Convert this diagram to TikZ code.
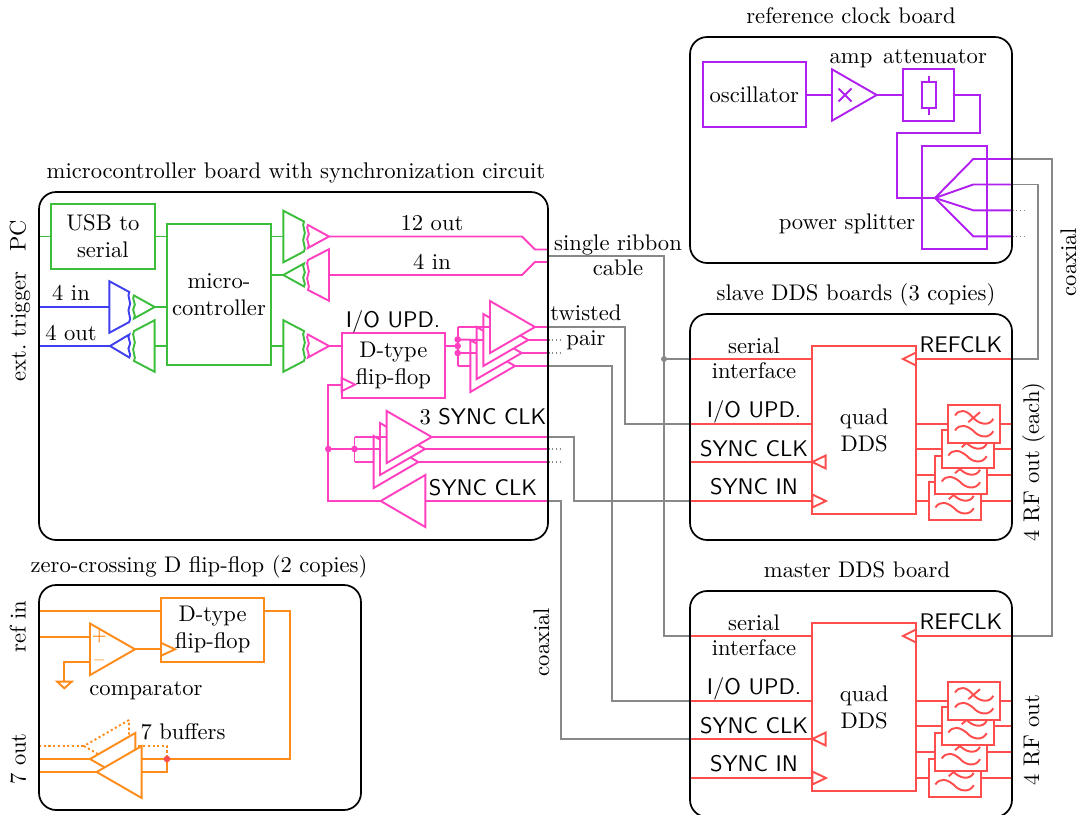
\documentclass[tikz,border=0pt]{standalone}
\usetikzlibrary{calc}
\pgfdeclarelayer{top}\pgfsetlayers{main,top}
\definecolor{cgreen}{HTML}{3CBE3C}
\definecolor{cblue}{HTML}{4040F0}
\definecolor{cpink}{HTML}{FF40C0}
\definecolor{corange}{HTML}{FF8C1A}
\definecolor{cpurple}{HTML}{B020F0}
\definecolor{cred}{HTML}{FF4D4D}
\definecolor{cgray}{HTML}{888888}
\def\unitpx{0.4667}
\AtBeginDocument{\fontsize{10.55}{12.65}\selectfont}
\tikzset{
  wire/.style={line width=.9pt,line join=miter},
  greenw/.style={wire,draw=cgreen},
  bluew/.style={wire,draw=cblue},
  pinkw/.style={wire,draw=cpink},
  orangew/.style={wire,draw=corange},
  purplew/.style={wire,draw=cpurple},
  redw/.style={wire,draw=cred},
  cable/.style={wire,draw=cgray},
  stub/.style={line width=.7pt,draw=cgray,dash pattern=on .7pt off 1.1pt},
  odot/.style={orangew,dash pattern=on 1pt off 1.2pt},
  boardbox/.style={draw=black,line width=.8pt,rounded corners=8pt},
  lbl/.style={anchor=base,inner sep=0pt,outer sep=0pt},
  sf/.style={font=\sffamily},
  sgn/.style={inner sep=0pt,text=corange,font=\fontsize{7}{7}\selectfont\bfseries},
}
% named box: name x1 y1 x2 y2 style text
\newcommand\bx[7]{%
  \pgfmathsetmacro\bxw{((#4)-(#2))*\unitpx}%
  \pgfmathsetmacro\bxh{((#5)-(#3))*\unitpx}%
  \node[#6,minimum width=\bxw pt,minimum height=\bxh pt,outer sep=0pt,inner sep=0pt,align=center]
    (#1) at ({((#2)+(#4))/2},{((#3)+(#5))/2}) {#7};}
% triangle: name xbase y xapex halfheight style
\newcommand\tri[6]{%
  \coordinate (#1-b) at (#2,#3); \coordinate (#1-a) at (#4,#3);
  \draw[fill=white,#6] (#2,{#3-#5}) -- (#1-a) -- (#2,{#3+#5}) -- cycle;}
% triangle with wavy base
\newcommand\wtri[6]{%
  \coordinate (#1-b) at (#2,#3); \coordinate (#1-a) at (#4,#3);
  \draw[fill=white,#6] (#2,{#3-#5})
    .. controls ({#2-3},{#3-0.75*#5}) and ({#2+3},{#3-0.25*#5}) .. (#2,#3)
    .. controls ({#2-3},{#3+0.25*#5}) and ({#2+3},{#3+0.75*#5}) .. (#2,{#3+#5})
    -- (#1-a) -- cycle;}
% trapezoid with wavy narrow side: name xwide xnarrow y hwide hnarrow style
\newcommand\trapz[7]{%
  \coordinate (#1-w) at (#2,#4); \coordinate (#1-n) at (#3,#4);
  \draw[fill=white,#7] (#2,{#4-#5}) -- (#3,{#4-#6})
    .. controls ({#3-3},{#4-0.75*#6}) and ({#3+3},{#4-0.25*#6}) .. (#3,#4)
    .. controls ({#3-3},{#4+0.25*#6}) and ({#3+3},{#4+0.75*#6}) .. (#3,{#4+#6})
    -- (#2,{#4+#5}) -- cycle;}
\newcommand\namedtxt[5][]{\node[lbl,#1] (#2) at (#3,#4) {#5};}
\newcommand\filt[3]{%
  \bx{#1}{#2}{#3}{#2+52}{#3+38.4}{redw,fill=white}{}
  \begin{scope}[shift={(#2,#3)}]
    \draw[redw] (6.7,10.7) .. controls (11,4) and (18,5) .. (24,12) .. controls (30,19.5) and (41,22) .. (45,14);
    \draw[redw] (6.7,25.7) .. controls (11,19) and (18,20) .. (25,26) .. controls (31,33) and (41,34) .. (45,26.4);
    \draw[redw] (20,17.4) -- (31.7,7.4);
  \end{scope}}
% DDS board: prefix, y offset
\newcommand\ddsboard[2]{%
\begin{scope}[shift={(0,#2)}]
  \begin{pgfonlayer}{top}
    \bx{#1-board}{690}{314}{1012}{540}{boardbox}{}
  \end{pgfonlayer}
  \bx{#1-dds}{812.3}{346}{916}{514}{redw}{quad\\DDS}
  \coordinate (#1-ser) at (690,359);
  \coordinate (#1-io) at (690,424);
  \coordinate (#1-clk) at (690,462);
  \coordinate (#1-in) at (690,501);
  \coordinate (#1-ref) at (1012,359);
  \draw[redw] (#1-ser) -- (#1-ser -| #1-dds.west);
  \draw[redw] (#1-io) -- (#1-io -| #1-dds.west);
  \draw[redw] (#1-clk) -- (#1-clk -| #1-dds.west);
  \draw[redw] (#1-in) -- (#1-in -| #1-dds.west);
  \tri{#1-tclk}{825.7}{462}{812.3}{6.5}{redw,fill=none}
  \tri{#1-tin}{812.3}{501}{826}{6.5}{redw,fill=none}
  \tri{#1-tref}{916}{359}{903}{6.5}{redw,fill=none}
  \draw[redw] (#1-ref) -- (#1-tref-b);
  \namedtxt{#1-tser}{754}{353}{serial}
  \namedtxt{#1-tint}{754}{378}{interface}
  \namedtxt[sf]{#1-tio}{754}{417}{I/O UPD.}
  \namedtxt[sf]{#1-tcl}{754}{456}{SYNC CLK}
  \namedtxt[sf]{#1-tsi}{754}{494}{SYNC IN}
  \namedtxt[sf]{#1-trf}{961}{352.7}{REFCLK}
  \filt{#1-f4}{928.7}{481.8}
  \draw[redw] (#1-dds.east |- #1-f4) -- (#1-f4.west);
  \draw[redw] (#1-f4.east) -- (#1-board.east |- #1-f4);
  \filt{#1-f3}{935}{455.8}
  \draw[redw] (#1-dds.east |- #1-f3) -- (#1-f3.west);
  \draw[redw] (#1-f3.east) -- (#1-board.east |- #1-f3);
  \filt{#1-f2}{941.7}{429.8}
  \draw[redw] (#1-dds.east |- #1-f2) -- (#1-f2.west);
  \draw[redw] (#1-f2.east) -- (#1-board.east |- #1-f2);
  \filt{#1-f1}{948.3}{404.8}
  \draw[redw] (#1-dds.east |- #1-f1) -- (#1-f1.west);
  \draw[redw] (#1-f1.east) -- (#1-board.east |- #1-f1);
\end{scope}}
\begin{document}
\begin{tikzpicture}[x=\unitpx pt,y=-\unitpx pt]
\useasboundingbox (0,0) rectangle (1078,814);
\begin{pgfonlayer}{top}
  \bx{mcb}{39}{192}{548}{540}{boardbox}{}
  \bx{zcb}{39}{585}{361}{810}{boardbox}{}
  \bx{clkb}{690}{37}{1012}{263}{boardbox}{}
\end{pgfonlayer}

% ---------- titles ----------
\namedtxt{tmcb}{296}{178}{microcontroller board with synchronization circuit}
\namedtxt{tzcb}{199}{572}{zero-crossing D flip-flop (2 copies)}
\namedtxt{tclk}{851}{23}{reference clock board}
\namedtxt{tslv}{856}{300}{slave DDS boards (3 copies)}
\namedtxt{tmst}{857}{577}{master DDS board}

% ---------- green and blue ----------
\bx{usb}{51}{204}{154.7}{269}{greenw}{USB to\\serial}
\bx{uc}{167.3}{224}{270.7}{365.3}{greenw}{micro-\\controller}
\draw[greenw] (mcb.west |- usb.west) -- (usb.west);
\draw[greenw] (usb.east) -- (uc.west |- usb.east);
\trapz{bi}{109.3}{129.3}{307}{25.8}{15}{bluew}
\wtri{go}{134}{307}{154.7}{11.5}{greenw}
\draw[bluew] (mcb.west |- bi-w) -- (bi-w);
\draw[greenw] (go-a) -- (uc.west |- go-a);
\wtri{bo}{129.3}{346}{110}{11.5}{bluew}
\trapz{gi}{154.7}{134}{346}{25.8}{15}{greenw}
\draw[bluew] (mcb.west |- bo-a) -- (bo-a);
\draw[greenw] (gi-w) -- (uc.west |- gi-w);
\trapz{g1}{283.3}{304}{236.5}{25.8}{15}{greenw}
\wtri{p1}{308}{236.5}{329}{11.5}{pinkw}
\draw[greenw] (uc.east |- g1-w) -- (g1-w);
\wtri{g2}{304}{275}{283.3}{11.5}{greenw}
\trapz{p2}{329}{308}{275}{25.8}{15}{pinkw}
\draw[greenw] (uc.east |- g2-a) -- (g2-a);
\trapz{g3}{283.3}{304}{346}{25.8}{15}{greenw}
\wtri{p3}{308}{346}{329}{11.5}{pinkw}
\draw[greenw] (uc.east |- g3-w) -- (g3-w);

\namedtxt{t4ia}{71}{300.7}{4 in}
\namedtxt{t4oa}{71}{340}{4 out}
\namedtxt[rotate=90]{tpc}{25.7}{236}{PC}
\namedtxt[rotate=90]{text}{25.7}{326.7}{ext.\ trigger}

% ---------- ribbon lines ----------
\coordinate (rib1) at (548,249.5);
\coordinate (rib2) at (548,262);
\coordinate (ribg) at (548,256);
\draw[pinkw] (p1-a) -- (522,236.5) -- (535,249.5) -- (rib1);
\draw[pinkw] (p2-w) -- (522,275) -- (535,262) -- (rib2);
\namedtxt{t12}{432}{230}{12 out}
\namedtxt{t4ib}{432}{269}{4 in}
\namedtxt{tsr}{618}{250}{single ribbon}
\namedtxt{tca}{618}{275}{cable}

% ---------- flip-flop and fan-out ----------
\bx{ff}{341.7}{333.3}{445}{397.7}{pinkw}{D-type\\flip-flop}
\coordinate (ffi) at (341.7,346);
\coordinate (ffo) at (445,346);
\draw[pinkw] (p3-a) -- (ffi);
\tri{ffc}{341.7}{384.6}{355}{6.5}{pinkw,fill=none}
\namedtxt[sf]{tio}{393}{327}{I/O UPD.}
\coordinate (fj) at (457.7,346);
\coordinate (fj1) at (457.7,327);
\coordinate (fj2) at (457.7,339.5);
\coordinate (fj3) at (457.7,353);
\coordinate (fj4) at (457.7,366);
\draw[pinkw] (ffo) -- (fj);
\draw[pinkw] (fj1) -- (fj4);
\tri{t4}{470.3}{366}{515}{26}{pinkw}
\draw[pinkw] (fj4) -- (t4-b);
\draw[pinkw] (t4-a) -- (mcb.east |- t4-a);
\tri{t3}{476.7}{353}{521.7}{26}{pinkw}
\draw[pinkw] (fj3) -- (t3-b);
\draw[pinkw] (t3-a) -- (mcb.east |- t3-a);
\tri{t2}{483.3}{340}{528.2}{26}{pinkw}
\draw[pinkw] (fj2) -- (t2-b);
\draw[pinkw] (t2-a) -- (mcb.east |- t2-a);
\tri{t1}{490}{327}{535}{26}{pinkw}
\draw[pinkw] (fj1) -- (t1-b);
\draw[pinkw] (t1-a) -- (mcb.east |- t1-a);
\fill[cpink] (fj2) circle (3.3) (fj) circle (3.3) (fj3) circle (3.3);

% ---------- sync clock ----------
\coordinate (ck) at (328.3,501);
\coordinate (ckj) at (328.3,449);
\coordinate (sj) at (354.5,449);
\coordinate (sj1) at (354.5,437);
\coordinate (sj3) at (354.5,462);
\tri{sb}{425.3}{501}{380.7}{26}{pinkw}
\draw[pinkw] (ffc-b) -- (ffc-b -| ck) -- (ck) -- (sb-a);
\draw[pinkw] (sb-b) -- (mcb.east |- sb-b);
\draw[pinkw] (ckj) -- (sj);
\draw[pinkw] (sj1) -- (sj3);
\tri{s3}{373.7}{462}{418.3}{26}{pinkw}
\draw[pinkw] (sj3) -- (s3-b);
\draw[pinkw] (s3-a) -- (mcb.east |- s3-a);
\tri{s2}{380}{449}{425}{26}{pinkw}
\draw[pinkw] (sj) -- (s2-b);
\draw[pinkw] (s2-a) -- (mcb.east |- s2-a);
\tri{s1}{386.7}{437}{431.7}{26}{pinkw}
\draw[pinkw] (sj1) -- (s1-b);
\draw[pinkw] (s1-a) -- (mcb.east |- s1-a);
\fill[cpink] (ckj) circle (3.3) (sj) circle (3.3);
\namedtxt{t3s}{483}{424}{3 {\sffamily SYNC CLK}}
\namedtxt[sf]{tsc}{483}{495}{SYNC CLK}
\namedtxt{ttw}{586}{320}{twisted}
\namedtxt{tpa}{586}{345}{pair}

% ---------- reference clock board ----------
\bx{osc}{702.7}{62.3}{806}{126.7}{purplew}{oscillator}
\tri{amp}{832}{95}{876.7}{25.7}{purplew}
\draw[purplew] (838.5,88.5) -- (851.5,101.5) (838.5,101.5) -- (851.5,88.5);
\bx{att}{902.7}{69.3}{954.3}{120.7}{purplew}{}
\bx{res}{922}{82}{935.7}{108}{purplew}{}
\draw[purplew] (res.north) -- ++(0,-6.5);
\draw[purplew] (res.south) -- ++(0,6.5);
\bx{split}{921.7}{146}{986.7}{249.3}{purplew}{}
\coordinate (sc) at (935,198);
\draw[purplew] (osc.east |- amp-b) -- (amp-b);
\draw[purplew] (amp-a) -- (att.west);
\draw[purplew] (att.east) -- (980,95) -- (980,133.3) -- (896.7,133.3) -- (896.7,198) -- (sc);
\coordinate (o1) at (1012,159);
\coordinate (o2) at (1012,184.5);
\coordinate (o3) at (1012,210.3);
\coordinate (o4) at (1012,236.3);
\draw[purplew] (sc) -- (973.3,159) -- (o1);
\draw[purplew] (sc) -- (973.3,184.5) -- (o2);
\draw[purplew] (sc) -- (973.3,210.3) -- (o3);
\draw[purplew] (sc) -- (973.3,236.3) -- (o4);
\namedtxt{tamp}{851}{63}{amp}
\namedtxt{tatt}{935}{63}{attenuator}
\namedtxt{tps}{847}{229}{power splitter}

% ---------- DDS boards ----------
\ddsboard{s}{0}
\ddsboard{m}{277}
\namedtxt[rotate=90]{trf1}{1039}{462}{4 RF out (each)}
\namedtxt[rotate=90]{trf2}{1039}{740}{4 RF out}
\namedtxt[rotate=90]{tco1}{1076}{262}{coaxial}
\namedtxt[rotate=90]{tco2}{549}{642}{coaxial}

% ---------- cables ----------
\coordinate (b1) at (625,0);
\coordinate (b2) at (612.3,0);
\coordinate (b3) at (574,0);
\coordinate (b4) at (561,0);
\coordinate (b5) at (664,0);
\coordinate (b6) at (1052,0);
\coordinate (b7) at (1038,0);
\draw[cable] (mcb.east |- t1-a) -- (b1 |- t1-a) -- (b1 |- s-io) -- (s-io);
\draw[cable] (mcb.east |- t4-a) -- (b2 |- t4-a) -- (b2 |- m-io) -- (m-io);
\draw[cable] (mcb.east |- s1-a) -- (b3 |- s1-a) -- (b3 |- s-in) -- (s-in);
\draw[cable] (mcb.east |- sb-b) -- (b4 |- sb-b) -- (b4 |- m-clk) -- (m-clk);
\draw[cable] (ribg) -- (b5 |- ribg) -- (b5 |- m-ser) -- (m-ser);
\draw[cable] (b5 |- s-ser) -- (s-ser);
\fill[cgray] (b5 |- s-ser) circle (3);
\draw[cable] (o1) -- (b6 |- o1) -- (b6 |- m-ref) -- (m-ref);
\draw[cable] (o2) -- (b7 |- o2) -- (b7 |- s-ref) -- (s-ref);
\draw[stub] (o3) -- ++(14,0);
\draw[stub] (o4) -- ++(14,0);
\draw[stub] (mcb.east |- t2-a) -- ++(13,0);
\draw[stub] (mcb.east |- t3-a) -- ++(13,0);
\draw[stub] (mcb.east |- s2-a) -- ++(13,0);
\draw[stub] (mcb.east |- s3-a) -- ++(13,0);

% ---------- zero-crossing board ----------
\bx{zff}{161}{597.7}{264.3}{662}{orangew}{D-type\\flip-flop}
\coordinate (zr) at (39,610.7);
\coordinate (zp) at (39,636.7);
\draw[orangew] (zr) -- (zr -| zff.west);
\tri{cmp}{90}{649.3}{135}{25.8}{orangew}
\draw[orangew] (zp) -- (zp -| cmp-b);
\node[sgn] (cp) at (99.3,636.7) {+};
\node[sgn] (cm) at (99.3,662) {--};
\coordinate (gnd) at (64.3,681.7);
\draw[orangew] (90,662) -- (64.3,662) -- (gnd);
\draw[orangew] (57.3,681.7) -- (71.7,681.7) -- (64.3,688.3) -- cycle;
\tri{zc}{161}{649.3}{175}{6.5}{orangew,fill=none}
\draw[orangew] (cmp-a) -- (zc-b);
\namedtxt{tcmp}{146}{695}{comparator}
\coordinate (zj) at (167,759);
\coordinate (zl) at (39,759);
\coordinate (zk) at (39,772);
\coordinate (zd) at (39,746);
\tri{zb3}{129}{746}{84}{26}{odot}
\draw[odot] (zd) -- (zb3-a);
\draw[odot] (zb3-b) -- (167,746) -- (zj);
\tri{zb2}{135.3}{759}{90}{26}{orangew}
\draw[orangew] (zl) -- (zb2-a);
\draw[orangew] (zk) -- (96.7,772);
\tri{zb1}{141.7}{772}{96.7}{26}{orangew}
\draw[orangew] (zb1-b) -- (zj |- zb1-b) -- (zj);
\draw[orangew] (141.7,759) -- (290,759) -- (290,610.7) -- (zff.east |- zr);
\fill[cred] (zj) circle (3.3);
\namedtxt{tbuf}{183}{739}{7 buffers}
\namedtxt[rotate=90]{tref}{25.7}{626.7}{ref in}
\namedtxt[rotate=90]{t7o}{25.7}{759}{7 out}
\end{tikzpicture}
\end{document}
